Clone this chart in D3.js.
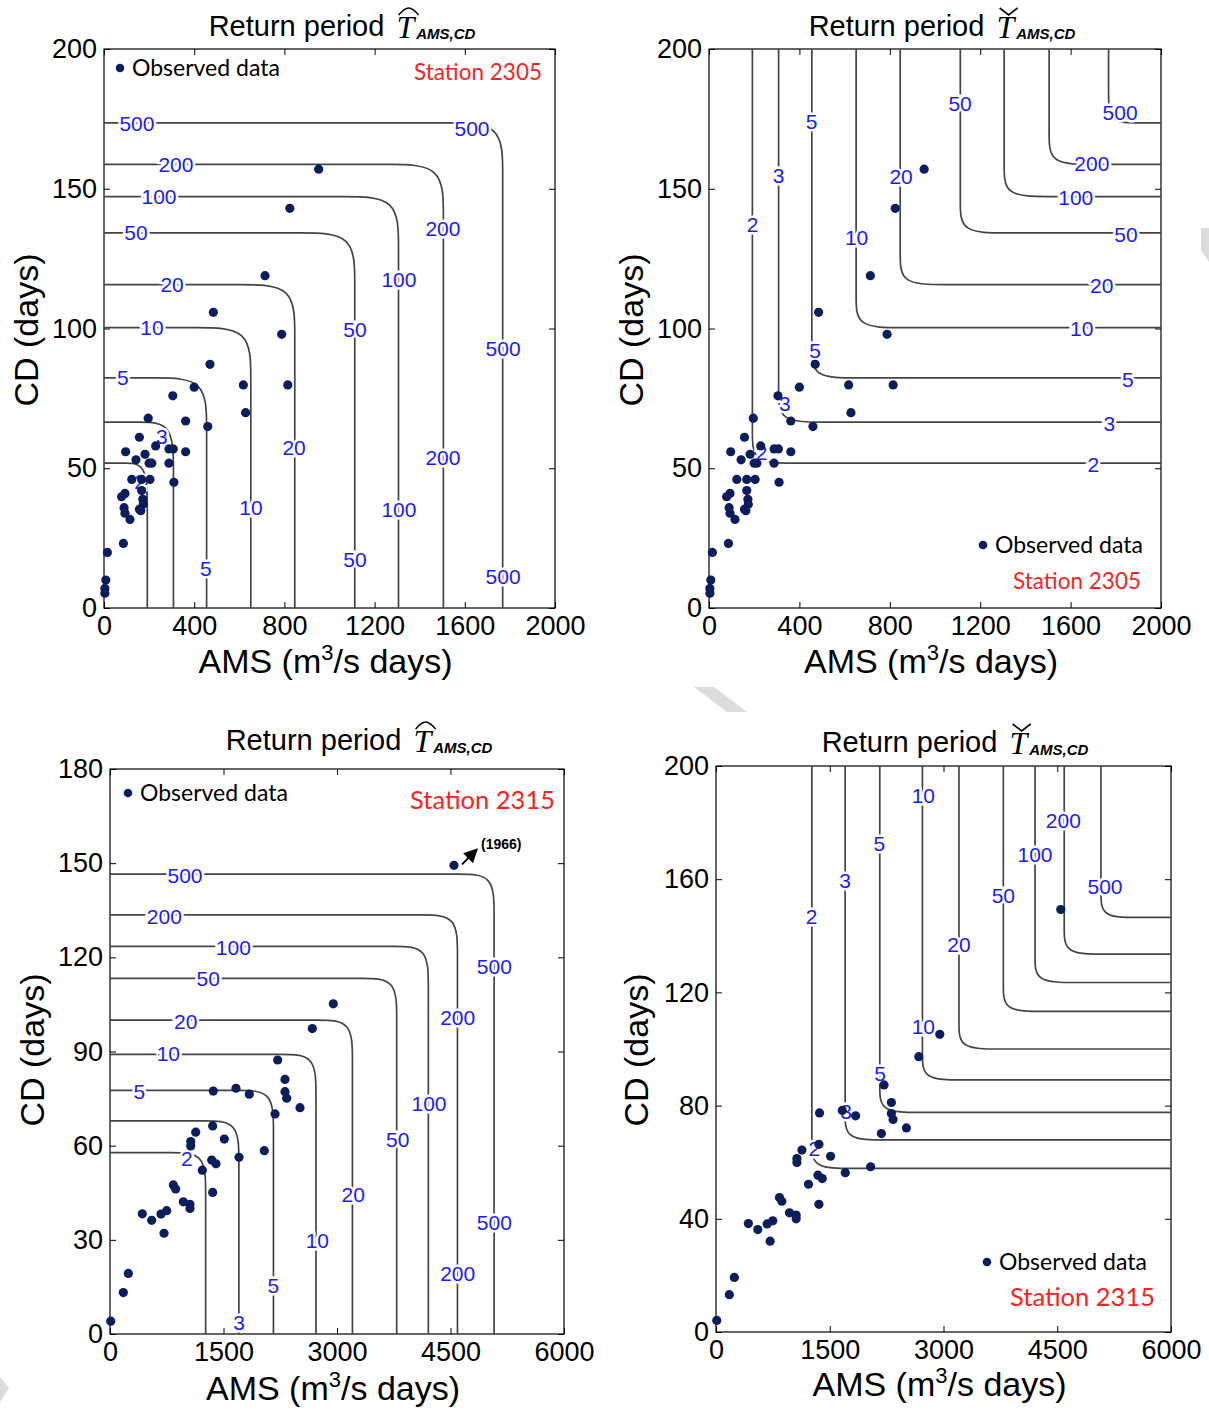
<!DOCTYPE html>
<html>
<head>
<meta charset="utf-8">
<script src="https://cdn.jsdelivr.net/npm/d3@7"></script>
<style>
  body { margin: 0; background: #fff; }
  svg { display: block; }
  .tick text { font-family: "Liberation Sans", Arial, sans-serif; font-size: 27px; fill: #000; }
  .tick line { stroke: #000; stroke-width: 1; }
  .clabel { font-family: "Liberation Sans", Arial, sans-serif; font-size: 21px; fill: #1a1aff;
            stroke: #fff; stroke-width: 5px; paint-order: stroke; }
</style>
</head>
<body>
<svg id="chart" width="1209" height="1412"></svg>
<script>
// return period levels of the contours
const levels = [2, 3, 5, 10, 20, 50, 100, 200, 500]

// where each contour meets its AMS / CD asymptote
const ams2305 = [192, 308, 455, 651, 846, 1112, 1306, 1505, 1768]
const cd2305 = [51.8, 66.5, 82.3, 100.3, 115.7, 134.2, 147.2, 158.7, 173.6]
const ams2315 = [1264, 1703, 2160, 2722, 3204, 3789, 4207, 4592, 5076]
const cd2315 = [57.8, 67.9, 77.6, 89.1, 100.0, 113.3, 123.5, 133.5, 146.5]

// observed data, station 2305
const obsAms2305 = [952, 824, 714, 485, 788, 470, 400, 618, 815, 305, 628, 196, 362, 460, 157, 229, 288, 307,
    362, 96, 182, 142, 200, 212, 288, 123, 167, 204, 310, 167, 93, 78, 172, 174, 89, 157, 93, 115, 163, 86, 15, 8, 4, 4]
const obsCd2305 = [157.0, 143.0, 118.9, 105.8, 97.9, 87.2, 79.0, 79.8, 79.8, 75.9, 69.9, 67.9, 66.9, 64.9, 61.1, 58.0, 56.9, 56.9,
    55.9, 55.9, 55.0, 53.0, 51.8, 51.8, 51.8, 46.0, 46.0, 46.0, 45.0, 42.0, 41.0, 39.8, 38.9, 37.1, 35.9, 35.3, 33.9, 31.7, 34.8, 23.1, 19.9, 10.0, 7.0, 5.3]

// observed data, station 2315
const obsAms2315 = [4546, 2951, 2674, 2216, 2313, 2313, 2335, 2511, 2181, 1365, 1665, 1841, 1133, 1067, 1067, 1357, 1511, 2039,
    1705, 1344, 1401, 1220, 1357, 837, 868, 969, 1057, 1057, 749, 674, 427, 551, 714, 242, 176, 10]
const obsCd2315 = [149.3, 105.2, 97.3, 87.3, 81.1, 77.2, 75.1, 72.1, 70.1, 77.4, 78.3, 76.4, 64.3, 61.3, 59.9, 66.3, 62.1, 58.4,
    56.3, 55.4, 54.2, 52.2, 45.1, 47.5, 46.2, 42.1, 41.3, 40.0, 39.3, 38.2, 38.3, 36.2, 32.1, 19.3, 13.2, 4.1]

// tick values
const xTicks2305 = [0, 400, 800, 1200, 1600, 2000]
const yTicks2305 = [0, 50, 100, 150, 200]
const xTicks2315 = [0, 1500, 3000, 4500, 6000]
const yTicks2315a = [0, 30, 60, 90, 120, 150, 180]
const yTicks2315b = [0, 40, 80, 120, 160, 200]

// contour label anchors [level, AMS, CD]
const labels1 = [[500, 146, 173.5], [500, 1632, 171.4], [500, 1770, 93.0], [500, 1770, 11.1],
    [200, 319, 158.5], [200, 1503, 135.6], [200, 1503, 54.0], [100, 244, 147.1], [100, 1308, 117.4], [100, 1308, 35.4],
    [50, 142, 134.2], [50, 1113, 99.8], [50, 1113, 17.5], [20, 302, 115.6], [20, 843, 57.6],
    [10, 213, 100.2], [10, 652, 36.1], [5, 84, 82.3], [5, 452, 14.0], [3, 257, 61.5], [2, 160, 45.4]]
const labels2 = [[5, 454, 174.0], [3, 308, 154.9], [2, 193, 137.3], [10, 653, 132.6], [20, 850, 154.3], [50, 1111, 180.6],
    [500, 1819, 177.2], [200, 1694, 159.1], [100, 1623, 146.9], [50, 1845, 133.8], [20, 1738, 115.3], [10, 1649, 100.1],
    [5, 469, 92.3], [5, 1853, 81.9], [3, 336, 73.0], [3, 1771, 66.1], [2, 233, 55.6], [2, 1701, 51.2]]
const labels3 = [[500, 991, 146.2], [500, 5079, 117.2], [500, 5079, 35.6], [200, 718, 132.9], [200, 4595, 100.9], [200, 4595, 19.3],
    [100, 1630, 123.2], [100, 4216, 73.5], [50, 1299, 113.1], [50, 3802, 62.1], [20, 1000, 99.5], [20, 3215, 44.5],
    [10, 771, 89.4], [10, 2740, 29.9], [5, 387, 77.2], [5, 2158, 15.6], [3, 1705, 3.6], [2, 1014, 55.8]]
const labels4 = [[10, 2734, 189.4], [200, 4580, 180.9], [5, 2153, 172.7], [100, 4207, 168.8], [3, 1701, 159.7], [500, 5130, 157.4],
    [50, 3789, 154.4], [2, 1262, 146.8], [20, 3204, 137.0], [10, 2734, 107.9], [5, 2163, 91.4], [3, 1714, 77.8], [2, 1296, 64.9]]

const navy = '#0b1d5a', red = '#ff2020', lineCol = '#444'

const panels = [
    {
        box: { l: 104, r: 555, t: 49, b: 608 }, xMax: 2000, yMax: 200, xTicks: xTicks2305, yTicks: yTicks2305,
        ams: ams2305, cd: cd2305, obsX: obsAms2305, obsY: obsCd2305, kind: 'or', round: { h: 55, v: 50 }, labels: labels1,
        title: { x: 342, y: 36, accent: 'hat' }, xTitleY: 673, yTitleX: 38, yTitleY: 330,
        legend: { x: 120, y: 68 }, station: { text: 'Station 2305', x: 542, y: 80, size: 22.5 }
    },
    {
        box: { l: 709, r: 1161, t: 49, b: 608 }, xMax: 2000, yMax: 200, xTicks: xTicks2305, yTicks: yTicks2305,
        ams: ams2305, cd: cd2305, obsX: obsAms2305, obsY: obsCd2305, kind: 'and', round: { h: 45, v: 30 }, labels: labels2,
        title: { x: 942, y: 36, accent: 'check' }, xTitleY: 673, yTitleX: 643, yTitleY: 330,
        legend: { x: 983, y: 545 }, station: { text: 'Station 2305', x: 1141, y: 589, size: 22.5 }
    },
    {
        box: { l: 110, r: 564, t: 769, b: 1334 }, xMax: 6000, yMax: 180, xTicks: xTicks2315, yTicks: yTicks2315a,
        ams: ams2315, cd: cd2315, obsX: obsAms2315, obsY: obsCd2315, kind: 'or', round: { h: 35, v: 40 }, labels: labels3,
        title: { x: 359, y: 750, accent: 'hat' }, xTitleY: 1400, yTitleX: 44, yTitleY: 1050,
        legend: { x: 128, y: 793 }, station: { text: 'Station 2315', x: 555, y: 809, size: 25.5 }, note: true
    },
    {
        box: { l: 716, r: 1171, t: 766, b: 1332 }, xMax: 6000, yMax: 200, xTicks: xTicks2315, yTicks: yTicks2315b,
        ams: ams2315, cd: cd2315, obsX: obsAms2315, obsY: obsCd2315, kind: 'and', round: { h: 40, v: 25 }, labels: labels4,
        title: { x: 955, y: 752, accent: 'check' }, xTitleY: 1396, yTitleX: 648, yTitleY: 1050,
        legend: { x: 987, y: 1262 }, station: { text: 'Station 2315', x: 1155, y: 1306, size: 25.5 }
    }
]

const svg = d3.select('#chart')

// faint grey marks of the scanned page
svg.append('g').attr('fill', '#dcdcdc').selectAll('polygon')
    .data([[[1201, 228], [1209, 228], [1209, 262], [1201, 250]], [[694, 687], [714, 687], [747, 712], [727, 712]],
        [[0, 1377], [9, 1388], [0, 1402]]])
    .join('polygon').attr('points', d => d.join(' '))

svg.append('defs').append('marker').attr('id', 'arrow')
    .attr('viewBox', '0 0 10 10').attr('refX', 9).attr('refY', 5)
    .attr('markerWidth', 7).attr('markerHeight', 7).attr('orient', 'auto')
    .append('path').attr('d', 'M0,0 L10,5 L0,10 z').attr('fill', '#000')

// L shaped contour with a rounded corner, built in pixel space from the scales
function contourPath(x, y, a, b, kind, round) {
    const X = x(a), Y = y(b)
    const [x0, x1] = x.range(), [yb, yt] = y.range()
    let pts
    if (kind === 'or') {
        const h = Math.min(round.h, (X - x0) * 0.5), v = Math.min(round.v, (yb - Y) * 0.5)
        pts = [[x0, Y], [X - 2 * h, Y], [X - h, Y], [X, Y], [X, Y + v], [X, Y + 2 * v], [X, yb]]
    } else {
        const h = Math.min(round.h, (x1 - X) * 0.5), v = Math.min(round.v, (Y - yt) * 0.5)
        pts = [[X, yt], [X, Y - 2 * v], [X, Y - v], [X, Y], [X + h, Y], [X + 2 * h, Y], [x1, Y]]
    }
    return d3.line().curve(d3.curveBasis)(pts)
}

function drawTitle(p) {
    const g = svg.append('g')
    const t1 = g.append('text').attr('y', p.title.y)
        .style('font', '29px "Liberation Sans", Arial, sans-serif').text('Return period')
    const tT = g.append('text').attr('y', p.title.y + 2)
        .style('font', 'italic 32px "Liberation Serif", "Times New Roman", serif').text('T')
    const tS = g.append('text').attr('y', p.title.y + 3)
        .style('font', 'italic bold 15px "Liberation Sans", Arial, sans-serif').text('AMS,CD')
    const w1 = t1.node().getComputedTextLength(), gap = 12
    const w2 = tT.node().getComputedTextLength() + 2, w3 = tS.node().getComputedTextLength()
    const start = p.title.x - (w1 + gap + w2 + w3) / 2
    t1.attr('x', start)
    tT.attr('x', start + w1 + gap)
    tS.attr('x', start + w1 + gap + w2)
    const cx = start + w1 + gap + w2 * 0.62, top = p.title.y - 28, bot = p.title.y - 21
    const d = p.title.accent === 'hat'
        ? `M${cx - 10},${bot} Q${cx - 4},${top} ${cx},${top} Q${cx + 4},${top} ${cx + 10},${bot}`
        : `M${cx - 9},${top} L${cx},${bot} L${cx + 9},${top}`
    g.append('path').attr('d', d).attr('fill', 'none').attr('stroke', '#000').attr('stroke-width', 1.6)
}

panels.forEach(p => {
    const x = d3.scaleLinear().domain([0, p.xMax]).range([p.box.l, p.box.r])
    const y = d3.scaleLinear().domain([0, p.yMax]).range([p.box.b, p.box.t])
    const g = svg.append('g')
    const fmt = d3.format('d')

    // Axes with inward ticks on all four sides
    g.append('g').attr('transform', `translate(0,${p.box.b})`)
        .call(d3.axisBottom(x).tickValues(p.xTicks).tickFormat(fmt).tickSize(-6).tickSizeOuter(0).tickPadding(8))
    g.append('g').attr('transform', `translate(0,${p.box.t})`)
        .call(d3.axisTop(x).tickValues(p.xTicks).tickSize(-6).tickSizeOuter(0).tickFormat(() => ''))
    g.append('g').attr('transform', `translate(${p.box.l},0)`)
        .call(d3.axisLeft(y).tickValues(p.yTicks).tickFormat(fmt).tickSize(-6).tickSizeOuter(0).tickPadding(7))
    g.append('g').attr('transform', `translate(${p.box.r},0)`)
        .call(d3.axisRight(y).tickValues(p.yTicks).tickSize(-6).tickSizeOuter(0).tickFormat(() => ''))
    g.selectAll('.domain').remove()

    g.append('rect').attr('x', p.box.l).attr('y', p.box.t)
        .attr('width', p.box.r - p.box.l).attr('height', p.box.b - p.box.t)
        .attr('fill', 'none').attr('stroke', '#000').attr('stroke-width', 1.2)

    // Contours
    g.append('g').selectAll('path').data(levels).join('path')
        .attr('d', (_, i) => contourPath(x, y, p.ams[i], p.cd[i], p.kind, p.round))
        .attr('fill', 'none').attr('stroke', lineCol).attr('stroke-width', 1.7)

    g.append('g').selectAll('text').data(p.labels).join('text')
        .attr('class', 'clabel').attr('x', d => x(d[1])).attr('y', d => y(d[2]))
        .attr('text-anchor', 'middle').attr('dominant-baseline', 'central')
        .text(d => d[0])

    // Observed data
    g.append('g').selectAll('circle').data(p.obsX).join('circle')
        .attr('cx', d => x(d)).attr('cy', (_, i) => y(p.obsY[i])).attr('r', 4.6).attr('fill', navy)

    // Legend and station name
    g.append('circle').attr('cx', p.legend.x).attr('cy', p.legend.y).attr('r', 4.3).attr('fill', navy)
    g.append('text').attr('x', p.legend.x + 12).attr('y', p.legend.y + 8)
        .style('font', '23px Lato, "Open Sans", sans-serif').text('Observed data')
    g.append('text').attr('x', p.station.x).attr('y', p.station.y).attr('text-anchor', 'end')
        .attr('fill', red).style('font', `${p.station.size}px Lato, "Open Sans", sans-serif`).text(p.station.text)

    if (p.note) {
        const px = x(p.obsX[0]), py = y(p.obsY[0])
        g.append('line').attr('x1', px + 8).attr('y1', py - 1).attr('x2', px + 23).attr('y2', py - 16)
            .attr('stroke', '#000').attr('stroke-width', 2).attr('marker-end', 'url(#arrow)')
        g.append('text').attr('x', px + 27).attr('y', py - 16)
            .style('font', 'bold 14px "Liberation Sans", Arial, sans-serif').text('(1966)')
    }

    // Axis titles
    const xt = g.append('text').attr('x', (p.box.l + p.box.r) / 2 - 4).attr('y', p.xTitleY).attr('text-anchor', 'middle')
        .style('font', '34px "Liberation Sans", Arial, sans-serif')
    xt.append('tspan').text('AMS (m')
    xt.append('tspan').attr('dy', -13).style('font-size', '22px').text('3')
    xt.append('tspan').attr('dy', 13).text('/s days)')
    g.append('text').attr('transform', `translate(${p.yTitleX},${p.yTitleY}) rotate(-90)`).attr('text-anchor', 'middle')
        .style('font', '34px "Liberation Sans", Arial, sans-serif').text('CD (days)')

    drawTitle(p)
})
</script>
</body>
</html>
